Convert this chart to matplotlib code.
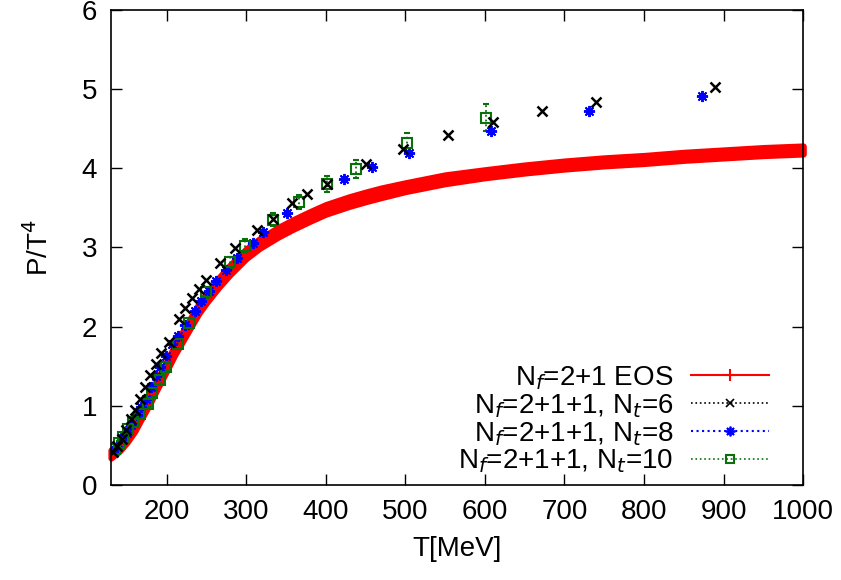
import matplotlib
matplotlib.use("Agg")
import matplotlib.pyplot as plt
from matplotlib.lines import Line2D
import numpy as np

plt.rcParams['font.family'] = ['Liberation Sans', 'DejaVu Sans']

# N_f = 2+1 EOS band (centre and half-width)
eos_T = [130, 141, 150, 160, 168, 178, 188, 200, 210, 225, 240, 250, 265, 280, 300,
         317, 340, 359, 380, 400, 430, 451, 470, 500, 550, 600, 650, 700, 750, 800,
         850, 900, 950, 1000]
eos_P = [0.39, 0.48, 0.59, 0.74, 0.89, 1.07, 1.27, 1.50, 1.70, 1.96, 2.22, 2.36, 2.55, 2.72, 2.92,
         3.05, 3.19, 3.29, 3.39, 3.48, 3.58, 3.64, 3.69, 3.76, 3.86, 3.93, 3.99, 4.04, 4.08, 4.11,
         4.15, 4.18, 4.21, 4.23]
eos_err = [0.05, 0.05, 0.055, 0.06, 0.06, 0.06, 0.06, 0.06, 0.06, 0.06, 0.06, 0.06, 0.06, 0.06, 0.06,
           0.06, 0.06, 0.06, 0.06, 0.06, 0.06, 0.06, 0.06, 0.055, 0.055, 0.05, 0.05, 0.05, 0.05, 0.05,
           0.05, 0.05, 0.05, 0.05]

# N_f = 2+1+1, N_t = 6
nt6_T = [132.5, 138, 143.8, 149, 155.5, 160.6, 166.6, 173, 179.5, 186, 193, 203.4, 216, 223.5,
         232, 240.6, 249, 267.5, 286, 313, 334, 357, 376, 402, 450, 497, 553, 610, 672, 739, 889]
nt6_P = [0.42, 0.49, 0.58, 0.69, 0.83, 0.95, 1.09, 1.24, 1.39, 1.53, 1.67, 1.81, 2.10, 2.23,
         2.36, 2.47, 2.59, 2.80, 2.99, 3.22, 3.36, 3.56, 3.67, 3.80, 4.05, 4.24, 4.42, 4.58, 4.72, 4.83, 5.03]

# N_f = 2+1+1, N_t = 8
nt8_T = [137, 145, 150, 155.5, 163, 168, 174, 180, 186, 191, 199, 207, 214, 222.6, 235, 243.6,
         253, 262.5, 275, 288, 308, 321, 351, 423, 458, 505, 608, 731, 872.5]
nt8_P = [0.48, 0.59, 0.66, 0.76, 0.88, 0.99, 1.09, 1.24, 1.37, 1.49, 1.63, 1.78, 1.88, 2.02, 2.20, 2.32,
         2.45, 2.58, 2.72, 2.86, 3.06, 3.20, 3.43, 3.86, 4.01, 4.19, 4.475, 4.72, 4.91]

# N_f = 2+1+1, N_t = 10
nt10_T = [135, 140, 145, 151, 158, 166, 176.5, 182, 191, 199.5, 214, 227.5, 250, 279, 298,
          334, 366, 402, 438, 502, 601]
nt10_P = [0.45, 0.53, 0.61, 0.70, 0.79, 0.89, 1.02, 1.16, 1.33, 1.49, 1.78, 2.05, 2.43, 2.81, 3.02,
          3.35, 3.57, 3.80, 3.99, 4.32, 4.64]
nt10_err = [0.03, 0.03, 0.03, 0.03, 0.04, 0.04, 0.04, 0.05, 0.05, 0.05, 0.06, 0.06, 0.07, 0.07, 0.08,
            0.08, 0.09, 0.10, 0.11, 0.13, 0.17]

xticks = [200, 300, 400, 500, 600, 700, 800, 900, 1000]
yticks = [0, 1, 2, 3, 4, 5, 6]

red = '#ff0000'
green = '#0b700b'
blue = '#0000ff'

fig = plt.figure(figsize=(8.41, 5.80), dpi=100)
ax = fig.add_axes([0.132, 0.164, 0.823, 0.819])

e_T = np.array(eos_T)
e_P = np.array(eos_P)
e_E = np.array(eos_err)
ax.fill_between(e_T, e_P - e_E, e_P + e_E, facecolor=red, edgecolor=red, lw=4.5,
                joinstyle='round', zorder=1, clip_on=False)

eb = ax.errorbar(nt10_T, nt10_P, yerr=nt10_err, fmt='s', ms=7, mfc='none', mec=green, mew=1.5,
                 ecolor=green, elinewidth=1.3, linestyle='none', capsize=2.5, zorder=3)
for lc in eb[2]:
    lc.set_linestyle(':')
ax.plot(nt8_T, nt8_P, marker=(8, 2, 0), color=blue, ms=8, mew=1.4, zorder=3, linestyle='none')
ax.plot(nt6_T, nt6_P, 'x', color='black', ms=7.5, mew=1.8, zorder=4, linestyle='none')

ax.set_xlim(130, 1000)
ax.set_ylim(0, 6)
ax.set_xticks(xticks)
ax.set_yticks(yticks)
ax.tick_params(direction='in', length=8, width=1, top=True, right=True, labelsize=20, pad=10)
for s in ax.spines.values():
    s.set_linewidth(1.2)
    s.set_zorder(5)

ax.set_xlabel('T[MeV]', fontsize=20, labelpad=8)
ax.set_ylabel('P/T$^4$', fontsize=20, labelpad=20)

handles = [
    Line2D([], [], color=red, lw=1.5, marker='+', ms=9, mew=1.5),
    Line2D([], [], color='black', lw=1.2, ls=':', marker='x', ms=6, mew=1.2),
    Line2D([], [], color=blue, lw=1.5, ls=':', marker=(8, 2, 0), ms=7, mew=1.3),
    Line2D([], [], color=green, lw=1.2, ls=':', marker='s', ms=6, mfc='none', mew=1.5),
]
labels = ['N$_f$=2+1 EOS', 'N$_f$=2+1+1, N$_t$=6', 'N$_f$=2+1+1, N$_t$=8', 'N$_f$=2+1+1, N$_t$=10']
leg = ax.legend(handles, labels, loc='lower right', bbox_to_anchor=(0.951, 0.02), frameon=False,
                markerfirst=False, fontsize=20, handlelength=2.8, handletextpad=0.65,
                labelspacing=0.0, numpoints=1, borderaxespad=0.0, borderpad=0.0)

fig.savefig('out.png', dpi=100)
